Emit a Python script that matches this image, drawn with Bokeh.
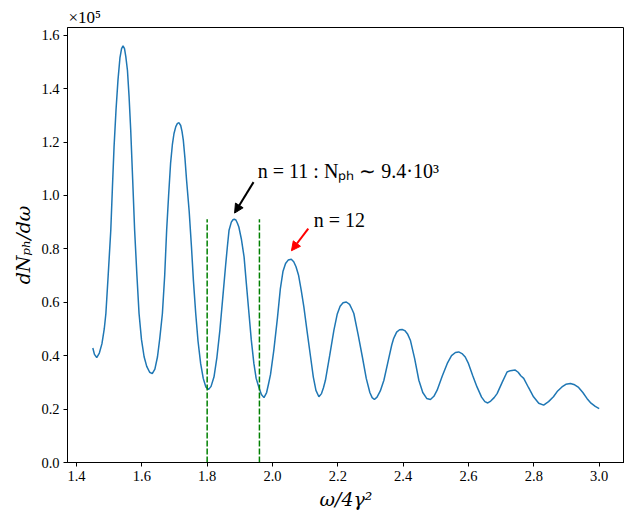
from bokeh.plotting import figure
from bokeh.models import (Range1d, FixedTicker, PrintfTickFormatter, Label, Arrow,
                          NormalHead, ColumnDataSource, Title)
from bokeh.embed import file_html
from bokeh.resources import INLINE

# photon spectrum dN_ph/dω, values in units of 1e5
omega = [1.450, 1.455, 1.462, 1.470, 1.478, 1.485, 1.490, 1.497, 1.505, 1.510,
         1.515, 1.521, 1.527, 1.533, 1.538, 1.5425, 1.547, 1.551, 1.556, 1.561,
         1.566, 1.572, 1.578, 1.585, 1.5915, 1.599, 1.607, 1.615, 1.624, 1.632,
         1.640, 1.648, 1.655, 1.663, 1.670, 1.676, 1.682, 1.688, 1.6935, 1.6985,
         1.704, 1.709, 1.714, 1.719, 1.723, 1.727, 1.732, 1.737, 1.745, 1.752,
         1.758, 1.765, 1.772, 1.780, 1.788, 1.796, 1.804, 1.812, 1.821, 1.830,
         1.839, 1.848, 1.857, 1.862, 1.867, 1.874, 1.879, 1.883, 1.888, 1.893,
         1.897, 1.905, 1.913, 1.920, 1.928, 1.935, 1.943, 1.950, 1.958, 1.966,
         1.974, 1.982, 1.988, 1.994, 2.004, 2.015, 2.024, 2.032, 2.040, 2.048,
         2.0575, 2.065, 2.072, 2.080, 2.088, 2.096, 2.106, 2.1165, 2.125, 2.133,
         2.142, 2.150, 2.156, 2.162, 2.175, 2.188, 2.198, 2.207, 2.216, 2.226,
         2.236, 2.244, 2.249, 2.262, 2.275, 2.287, 2.298, 2.305, 2.312, 2.320,
         2.330, 2.341, 2.355, 2.365, 2.371, 2.380, 2.389, 2.397, 2.405, 2.414,
         2.422, 2.435, 2.448, 2.460, 2.472, 2.4835, 2.494, 2.504, 2.520, 2.535,
         2.548, 2.560, 2.570, 2.580, 2.590, 2.600, 2.613, 2.626, 2.640, 2.650,
         2.659, 2.668, 2.6785, 2.6875, 2.703, 2.718, 2.728, 2.743, 2.752, 2.760,
         2.769, 2.784, 2.799, 2.815, 2.830, 2.845, 2.860, 2.873, 2.886, 2.898,
         2.912, 2.925, 2.937, 2.950, 2.9625, 2.975, 2.988, 3.000]
dNdw = [0.429, 0.405, 0.393, 0.410, 0.445, 0.500, 0.558, 0.700, 0.870, 1.030,
        1.182, 1.320, 1.432, 1.515, 1.550, 1.560, 1.550, 1.520, 1.469, 1.370,
        1.245, 1.060, 0.870, 0.700, 0.558, 0.460, 0.396, 0.360, 0.338, 0.333,
        0.350, 0.396, 0.465, 0.558, 0.700, 0.870, 1.000, 1.120, 1.190, 1.232,
        1.258, 1.270, 1.272, 1.262, 1.240, 1.207, 1.140, 1.057, 0.940, 0.807,
        0.680, 0.558, 0.455, 0.371, 0.315, 0.283, 0.273, 0.285, 0.321, 0.395,
        0.496, 0.620, 0.745, 0.810, 0.870, 0.900, 0.909, 0.911, 0.908, 0.895,
        0.882, 0.835, 0.770, 0.670, 0.558, 0.460, 0.371, 0.315, 0.283, 0.255,
        0.243, 0.262, 0.295, 0.330, 0.420, 0.540, 0.650, 0.715, 0.745, 0.758,
        0.761, 0.752, 0.733, 0.700, 0.645, 0.583, 0.490, 0.396, 0.320, 0.270,
        0.246, 0.258, 0.280, 0.308, 0.400, 0.496, 0.555, 0.585, 0.598, 0.601,
        0.592, 0.572, 0.558, 0.480, 0.396, 0.315, 0.262, 0.243, 0.236, 0.245,
        0.268, 0.308, 0.385, 0.440, 0.465, 0.488, 0.497, 0.498, 0.494, 0.480,
        0.458, 0.390, 0.308, 0.262, 0.240, 0.236, 0.248, 0.271, 0.325, 0.371,
        0.400, 0.412, 0.414, 0.408, 0.395, 0.370, 0.325, 0.283, 0.245, 0.228,
        0.223, 0.230, 0.243, 0.258, 0.300, 0.339, 0.344, 0.346, 0.338, 0.325,
        0.315, 0.280, 0.246, 0.222, 0.215, 0.228, 0.246, 0.268, 0.283, 0.293,
        0.296, 0.291, 0.281, 0.262, 0.240, 0.222, 0.210, 0.202]

# green dashed markers around the n = 11 harmonic
marker_x = [1.80, 1.96]
marker_top = [0.911, 0.911]
marker_bottom = [0.0, 0.0]

x_ticks = [1.4, 1.6, 1.8, 2.0, 2.2, 2.4, 2.6, 2.8, 3.0]
y_ticks = [0.0, 0.2, 0.4, 0.6, 0.8, 1.0, 1.2, 1.4, 1.6]

# annotations: text anchor, arrow tail, arrow tip
ann11_text = "n = 11 : Nₚₕ ∼ 9.4·10³"
ann11_xy = (1.955, 1.092)
ann11_tail = (1.942, 1.050)
ann11_tip = (1.884, 0.934)
ann12_text = "n = 12"
ann12_xy = (2.126, 0.907)
ann12_tail = (2.1095, 0.876)
ann12_tip = (2.058, 0.793)
scale_text = "×10⁵"

XR = (1.3725, 3.0775)
YR = (0.0, 1.629)

TICK_FONT = "Liberation Serif"
MATH_FONT = "DejaVu Serif"

p = figure(width=624, height=515, output_backend="svg", toolbar_location=None,
           x_range=Range1d(*XR), y_range=Range1d(*YR),
           title=Title(text=scale_text, align="left", text_font=TICK_FONT,
                       text_font_size="17px", text_font_style="normal",
                       text_color="black", standoff=2, offset=1),
           min_border_left=67, min_border_right=0, min_border_top=27, min_border_bottom=53)
p.background_fill_color = "white"
p.border_fill_color = "white"
p.outline_line_color = "black"
p.outline_line_width = 1
p.xgrid.visible = False
p.ygrid.visible = False

for ax, ticks in ((p.xaxis[0], x_ticks), (p.yaxis[0], y_ticks)):
    ax.ticker = FixedTicker(ticks=ticks)
    ax.formatter = PrintfTickFormatter(format="%.1f")
    ax.major_tick_in = 0
    ax.major_tick_out = 4
    ax.minor_tick_in = 0
    ax.minor_tick_out = 0
    ax.major_tick_line_color = "black"
    ax.axis_line_color = "black"
    ax.major_label_text_font = TICK_FONT
    ax.major_label_text_font_size = "14.5px"
    ax.major_label_text_color = "black"
    ax.major_label_standoff = 4
    ax.axis_label_text_font = MATH_FONT
    ax.axis_label_text_font_style = "italic"
    ax.axis_label_text_font_size = "19px"
    ax.axis_label_text_color = "black"
    ax.axis_label_standoff = 4

p.xaxis.axis_label = "ω/4γ²"
p.yaxis.axis_label = "dNₚₕ/dω"

src = ColumnDataSource(dict(x=omega, y=dNdw))
p.line("x", "y", source=src, line_color="#1f77b4", line_width=1.5)

p.segment(x0=marker_x, y0=marker_bottom, x1=marker_x, y1=marker_top,
          line_color="#008000", line_width=1.5, line_dash="6 2")

p.add_layout(Arrow(x_start=ann11_tail[0], y_start=ann11_tail[1],
                   x_end=ann11_tip[0], y_end=ann11_tip[1],
                   line_color="black", line_width=2,
                   end=NormalHead(size=9, fill_color="black", line_color="black")))
p.add_layout(Arrow(x_start=ann12_tail[0], y_start=ann12_tail[1],
                   x_end=ann12_tip[0], y_end=ann12_tip[1],
                   line_color="red", line_width=2,
                   end=NormalHead(size=9, fill_color="red", line_color="red")))

p.add_layout(Label(x=ann11_xy[0], y=ann11_xy[1], text=ann11_text,
                   text_font=TICK_FONT, text_font_size="20px", text_color="black",
                   text_baseline="alphabetic"))
p.add_layout(Label(x=ann12_xy[0], y=ann12_xy[1], text=ann12_text,
                   text_font=TICK_FONT, text_font_size="20px", text_color="black",
                   text_baseline="alphabetic"))

open("out.html", "w").write(file_html(p, INLINE))
